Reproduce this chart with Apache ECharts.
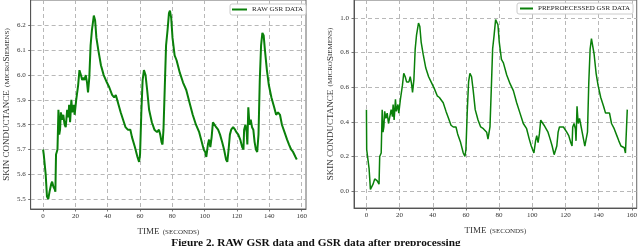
<!DOCTYPE html>
<html>
<head>
<meta charset="utf-8">
<script src="https://cdn.jsdelivr.net/npm/echarts@6/dist/echarts.min.js"></script>
<style>html,body{margin:0;padding:0;background:#fff;}#c{width:640px;height:246px;}</style>
</head>
<body>
<div id="c"></div>
<script>
// time stamps (seconds) for the raw GSR trace
const time = [0,0.4,1.6,2.4,3.2,4,5,5.6,6.4,7.2,
  7.6,8,8.9,9.5,10,10.5,11,11.7,12.5,13.3,
  14,14.9,15.7,16.1,16.7,17.5,18,19,19.5,20.5,
  21.7,22.5,23.4,24.2,25,25.6,26.4,27.2,27.8,28.6,
  29.4,30.2,31.4,32.2,33,34.2,35.8,37.5,39.5,41,
  42.7,44,45,46.3,48,49.5,51,52.4,54,55,
  56.8,58.4,59.4,60,60.8,61.6,62.4,63.4,64.4,65.6,
  67.3,68.9,70.5,71.7,72.5,73.3,73.9,74.5,75.3,76.1,
  77,77.9,78.5,79.3,80.1,81.4,82.6,84.6,86.6,88.6,
  90.6,92.6,94.6,96.6,98.2,99.4,100.3,101,102,102.7,
  103.5,104.3,105.1,105.9,107.1,108.3,109.5,110.8,112,113.2,
  114,114.8,115.6,116.4,117.6,118.8,119.6,120.8,122,123.2,
  124,124.4,125.2,126,126.4,127,127.7,128.5,129.3,130.1,
  130.9,131.7,132.5,133.3,134.1,134.9,135.7,136.5,137.3,138.5,
  139.7,141.3,143,144.2,145.4,146.6,147.8,149.4,151,152.2,
  153.5,154.7,155.5,156.2,157];
// raw skin conductance (microSiemens)
const rawGSR = [5.70,5.68,5.60,5.51,5.50,5.53,5.56,5.57,5.55,5.54,
  5.53,5.68,5.70,5.86,5.76,5.78,5.85,5.82,5.84,5.80,
  5.79,5.86,5.83,5.88,5.81,5.90,5.85,5.88,5.84,5.90,
  5.96,6.02,6.00,5.98,5.99,5.98,6.00,5.97,5.93,5.99,
  6.12,6.18,6.24,6.22,6.15,6.10,6.04,6.00,5.97,5.95,
  5.92,5.91,5.92,5.89,5.85,5.82,5.79,5.78,5.78,5.75,
  5.71,5.67,5.65,5.68,5.85,5.98,6.02,6.00,5.94,5.86,
  5.81,5.78,5.77,5.78,5.76,5.73,5.72,5.78,5.95,6.12,
  6.18,6.25,6.26,6.23,6.15,6.08,6.06,6.01,5.97,5.94,
  5.89,5.84,5.80,5.77,5.73,5.70,5.69,5.67,5.72,5.74,
  5.71,5.75,5.81,5.81,5.79,5.78,5.76,5.73,5.70,5.66,
  5.65,5.70,5.76,5.78,5.79,5.78,5.77,5.76,5.74,5.71,
  5.70,5.78,5.80,5.77,5.72,5.87,5.80,5.82,5.79,5.78,
  5.73,5.70,5.69,5.76,5.98,6.12,6.17,6.16,6.10,6.02,
  5.96,5.91,5.87,5.84,5.85,5.84,5.80,5.77,5.74,5.72,
  5.70,5.69,5.69,5.67,5.66];
// time stamps for the preprocessed trace
const prepTime = [0,0.15,0.4,1.6,2.4,3.2,4,5,5.6,6.4,7.2,
  7.6,8,8.9,9.5,10,10.5,11,11.7,12.5,13.3,
  14,14.9,15.7,16.1,16.7,17.5,18,19,19.5,20.5,
  21.7,22.5,23.4,24.2,25,25.6,26.4,27.2,27.8,28.6,
  29.4,30.2,31.4,32.2,33,34.2,35.8,37.5,39.5,41,
  42.7,44,45,46.3,48,49.5,51,52.4,54,55,
  56.8,58.4,59.4,60,60.8,61.6,62.4,63.4,64.4,65.6,
  67.3,68.9,70.5,71.7,72.5,73.3,73.9,74.5,75.3,76.1,
  77,77.9,78.5,79.3,80.1,81.4,82.6,84.6,86.6,88.6,
  90.6,92.6,94.6,96.6,98.2,99.4,100.3,101,102,102.7,
  103.5,104.3,105.1,105.9,107.1,108.3,109.5,110.8,112,113.2,
  114,114.8,115.6,116.4,117.6,118.8,119.6,120.8,122,123.2,
  124,124.4,125.2,126,126.4,127,127.7,128.5,129.3,130.1,
  130.9,131.7,132.5,133.3,134.1,134.9,135.7,136.5,137.3,138.5,
  139.7,141.3,143,144.2,145.4,146.6,147.8,149.4,151,152.2,
  153.5,154.7,155.5,156.2,157,157.3];
// preprocessed (normalised) GSR
const prepGSR = [0.47,0.24,0.23,0.13,0.01,0.00,0.04,0.07,0.08,0.06,0.05,
  0.04,0.20,0.22,0.47,0.34,0.37,0.46,0.42,0.45,0.39,
  0.38,0.47,0.43,0.50,0.41,0.53,0.46,0.50,0.45,0.53,
  0.61,0.68,0.66,0.63,0.64,0.63,0.66,0.62,0.57,0.64,
  0.82,0.90,0.97,0.95,0.86,0.79,0.71,0.66,0.62,0.59,
  0.55,0.54,0.55,0.51,0.46,0.42,0.38,0.37,0.37,0.33,
  0.28,0.22,0.20,0.24,0.46,0.63,0.68,0.66,0.58,0.47,
  0.41,0.37,0.36,0.37,0.34,0.30,0.29,0.37,0.59,0.82,
  0.90,0.99,1.00,0.96,0.86,0.76,0.74,0.67,0.62,0.58,
  0.51,0.45,0.39,0.36,0.30,0.26,0.25,0.22,0.29,0.32,
  0.28,0.33,0.41,0.41,0.38,0.37,0.34,0.30,0.26,0.21,
  0.20,0.26,0.34,0.37,0.38,0.37,0.36,0.34,0.32,0.28,
  0.26,0.37,0.39,0.36,0.29,0.49,0.39,0.42,0.38,0.37,
  0.30,0.26,0.25,0.34,0.63,0.82,0.88,0.87,0.79,0.68,
  0.61,0.54,0.49,0.45,0.46,0.45,0.39,0.36,0.32,0.29,
  0.26,0.25,0.25,0.22,0.21,0.47];
// tick labels
const xTicks = [0,20,40,60,80,100,120,140,160];
const rawTicks = [5.5,5.6,5.7,5.8,5.9,6.0,6.1,6.2];
const prepTicks = [0.0,0.2,0.4,0.6,0.8,1.0];

const serif = 'Liberation Serif';
const gridLine = {show:true, lineStyle:{color:'#b0b0b0', type:[4,3], width:0.9}};
const axisLine = {show:true, onZero:false, lineStyle:{color:'#555', width:1}};
const tick = {show:true, length:2.5, lineStyle:{color:'#555', width:0.8}};
const labelStyle = {color:'#333', fontFamily:serif, fontSize:7};
const nameRich = {
  a:{fontFamily:serif, fontSize:9, color:'#333'},
  b:{fontFamily:serif, fontSize:7, color:'#333'}
};

function xAxisDef(grid, min, max){
  return {type:'value', gridIndex:grid, min:min, max:max,
    axisLine:axisLine,
    axisTick:Object.assign({customValues:xTicks}, tick),
    axisLabel:Object.assign({customValues:xTicks, margin:4}, labelStyle),
    splitLine:gridLine,
    name:'{a|TIME} {b|(SECONDS)}', nameLocation:'middle', nameGap:17,
    nameTextStyle:{rich:nameRich}};
}
function yAxisDef(grid, min, max, ticks, gap){
  return {type:'value', gridIndex:grid, min:min, max:max,
    axisLine:axisLine,
    axisTick:Object.assign({customValues:ticks}, tick),
    axisLabel:Object.assign({customValues:ticks, margin:5, formatter:v=>v.toFixed(1)}, labelStyle),
    splitLine:gridLine,
    name:'{a|SKIN CONDUCTANCE} {b|(MICRO}{a|S}{b|IEMENS)}', nameLocation:'middle', nameGap:gap, nameRotate:90,
    nameTextStyle:{rich:nameRich}};
}

const chart = echarts.init(document.getElementById('c'), null, {renderer:'canvas'});
chart.setOption({
  animation:false,
  backgroundColor:'#fff',
  grid:[
    {left:24, right:334, top:-1, bottom:37, show:true, borderColor:'#666', borderWidth:1},
    {left:354, right:3, top:-1, bottom:38, show:true, borderColor:'#666', borderWidth:1}
  ],
  xAxis:[xAxisDef(0,-7.7,162.7), xAxisDef(1,-7.5,163)],
  yAxis:[yAxisDef(0,5.46,6.303,rawTicks,16), yAxisDef(1,-0.0977,1.103,prepTicks,17)],
  legend:[
    {data:['RAW GSR DATA'], left:230, top:4, padding:[2,3,2,2], itemWidth:15, itemHeight:2, icon:'rect',
     borderColor:'#ccc', borderWidth:1, borderRadius:2, backgroundColor:'#fff',
     textStyle:{fontFamily:serif, fontSize:7, color:'#222'}},
    {data:['PREPROECESSED GSR DATA'], left:517, top:3, padding:[2,3,2,3], itemWidth:13, itemHeight:2, icon:'rect',
     borderColor:'#ccc', borderWidth:1, borderRadius:2, backgroundColor:'#fff',
     textStyle:{fontFamily:serif, fontSize:7, color:'#222'}}
  ],
  series:[
    {name:'RAW GSR DATA', type:'line', xAxisIndex:0, yAxisIndex:0, showSymbol:false,
     data:time.map((t,i)=>[t,rawGSR[i]]), lineStyle:{color:'#0a800a', width:2}, itemStyle:{color:'#0a800a'}},
    {name:'PREPROECESSED GSR DATA', type:'line', xAxisIndex:1, yAxisIndex:1, showSymbol:false,
     data:prepTime.map((t,i)=>[t,prepGSR[i]]), lineStyle:{color:'#0a800a', width:1.5}, itemStyle:{color:'#0a800a'}}
  ],
  graphic:[
    {type:'text', x:316, y:243, style:{text:'Figure 2. RAW GSR data and GSR data after preprocessing',
      fontFamily:serif, fontSize:11.3, fontWeight:'bold', fill:'#111', align:'center', verticalAlign:'middle'}}
  ]
});
</script>
</body>
</html>
